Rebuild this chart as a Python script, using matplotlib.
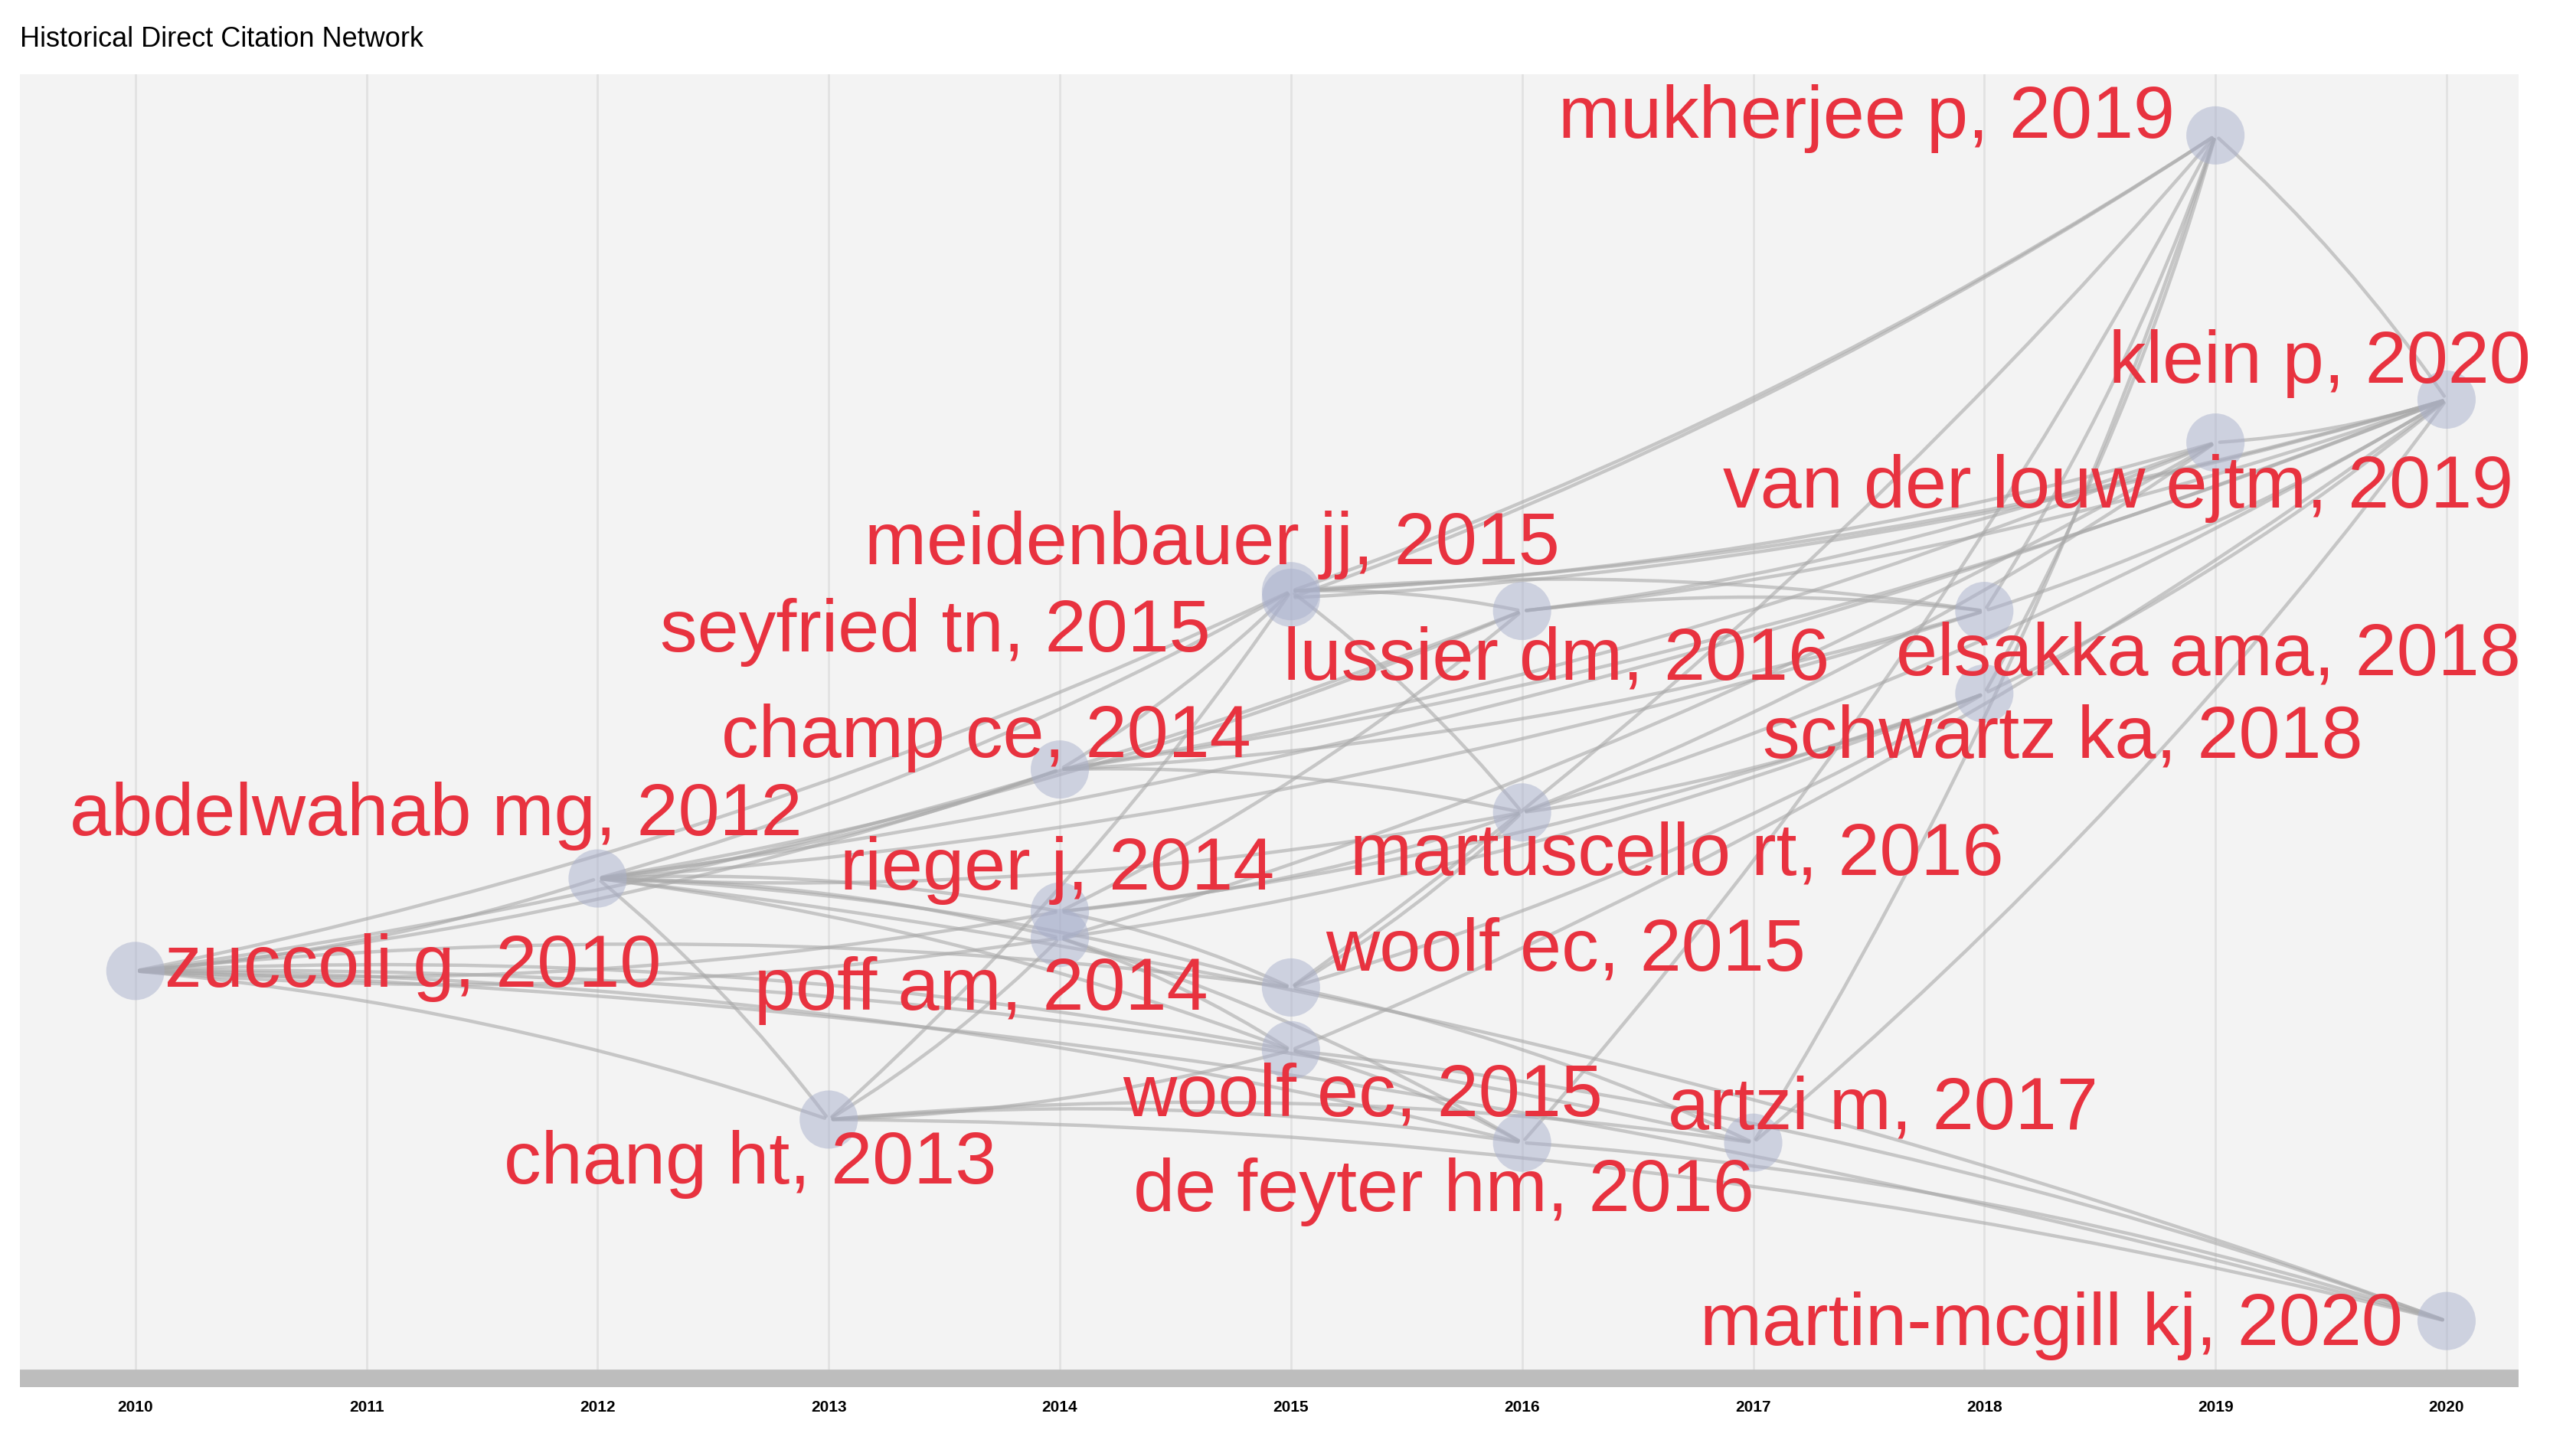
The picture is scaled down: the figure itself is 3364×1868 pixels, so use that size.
import matplotlib.pyplot as plt
from matplotlib.patches import FancyArrowPatch

plt.rcParams['font.family'] = ['Liberation Sans', 'DejaVu Sans']

# nodes: name, year, vertical position (screen units, top = 0)
names = ["zuccoli g, 2010", "abdelwahab mg, 2012", "chang ht, 2013", "champ ce, 2014",
         "rieger j, 2014", "poff am, 2014", "meidenbauer jj, 2015", "seyfried tn, 2015",
         "woolf ec, 2015", "woolf ec, 2015 ", "lussier dm, 2016", "martuscello rt, 2016",
         "de feyter hm, 2016", "artzi m, 2017", "elsakka ama, 2018", "schwartz ka, 2018",
         "van der louw ejtm, 2019", "mukherjee p, 2019", "klein p, 2020", "martin-mcgill kj, 2020"]
years = [2010, 2012, 2013, 2014, 2014, 2014, 2015, 2015, 2015, 2015, 2016, 2016,
         2016, 2017, 2018, 2018, 2019, 2019, 2020, 2020]
ypos = [588, 532, 678, 466, 552, 568, 358, 362, 598, 636, 370, 492,
        692, 692, 370, 420, 268, 82, 242, 800]
# label centers (year units, screen units)
lab_x = [2011.2, 2011.3, 2012.66, 2013.68, 2013.99, 2013.66, 2014.66, 2013.46,
         2016.19, 2015.31, 2016.15, 2016.67, 2015.66, 2017.56, 2018.97, 2018.34,
         2018.58, 2017.49, 2019.45, 2018.29]
lab_y = [586, 494, 705, 447, 527, 600, 330, 383, 576, 664, 400, 518,
         722, 672, 397, 447, 296, 72, 220, 803]

edges = [(0, 1), (0, 2), (0, 3), (0, 4), (0, 5), (0, 6), (0, 8), (0, 9), (0, 12), (0, 19), (0, 13), (0, 10),
         (1, 3), (1, 4), (1, 5), (1, 6), (1, 8), (1, 9), (1, 2), (1, 11), (1, 14), (1, 18), (1, 19), (1, 10),
         (2, 5), (2, 9), (2, 12), (2, 19), (2, 6), (2, 13),
         (3, 6), (3, 11), (3, 14), (3, 18), (3, 16),
         (4, 8), (4, 11), (4, 15), (4, 10),
         (5, 9), (5, 12), (5, 15), (5, 16),
         (6, 10), (6, 17), (6, 14), (6, 18), (6, 16), (6, 11),
         (7, 17), (7, 18),
         (8, 11), (8, 15), (8, 13), (8, 17),
         (9, 12), (9, 19), (9, 18),
         (10, 14), (10, 16), (10, 18),
         (11, 15), (11, 16), (11, 18),
         (12, 19), (12, 17),
         (13, 17), (13, 18),
         (14, 17), (14, 18),
         (15, 18), (15, 17),
         (16, 18), (17, 18)]

H = 866.0
fig = plt.figure(figsize=(16.82, 9.34), dpi=200)
ax = fig.add_axes([12 / 1560, 1 - 840 / H, (1525 - 12) / 1560, (840 - 45) / H])
ax.set_xlim(2009.5, 2020.31)
ax.set_ylim(840, 45)
ax.set_facecolor("#f3f3f3")
for s in ax.spines.values():
    s.set_visible(False)
ax.axhspan(830, 840, color="#bdbdbd", zorder=1)
for yr in range(2010, 2021):
    ax.axvline(yr, color="#e2e2e2", lw=1.0, zorder=0)

for a, b in edges:
    rad = 0.06 if ypos[b] < ypos[a] else -0.06
    p = FancyArrowPatch((years[a], ypos[a]), (years[b], ypos[b]),
                        connectionstyle=f"arc3,rad={rad}", arrowstyle="-",
                        color="#a9a9a9", lw=1.6, alpha=0.6, zorder=2)
    ax.add_patch(p)

ax.scatter(years, ypos, s=750, color="#a9b0cc", alpha=0.5, edgecolors="none", zorder=3)

for n, x, y in zip(names, lab_x, lab_y):
    ax.text(x, y, n.strip(), color="#e8323f", fontsize=35, ha="center", va="center", zorder=4)

ax.set_xticks(range(2010, 2021))
ax.set_xticklabels([str(v) for v in range(2010, 2021)], fontsize=7.5, fontweight="bold")
ax.tick_params(axis="x", length=0, pad=6)
ax.set_yticks([])

fig.text(12 / 1560, 1 - 24 / H, "Historical Direct Citation Network", fontsize=13, va="center")
fig.savefig("out.png")
